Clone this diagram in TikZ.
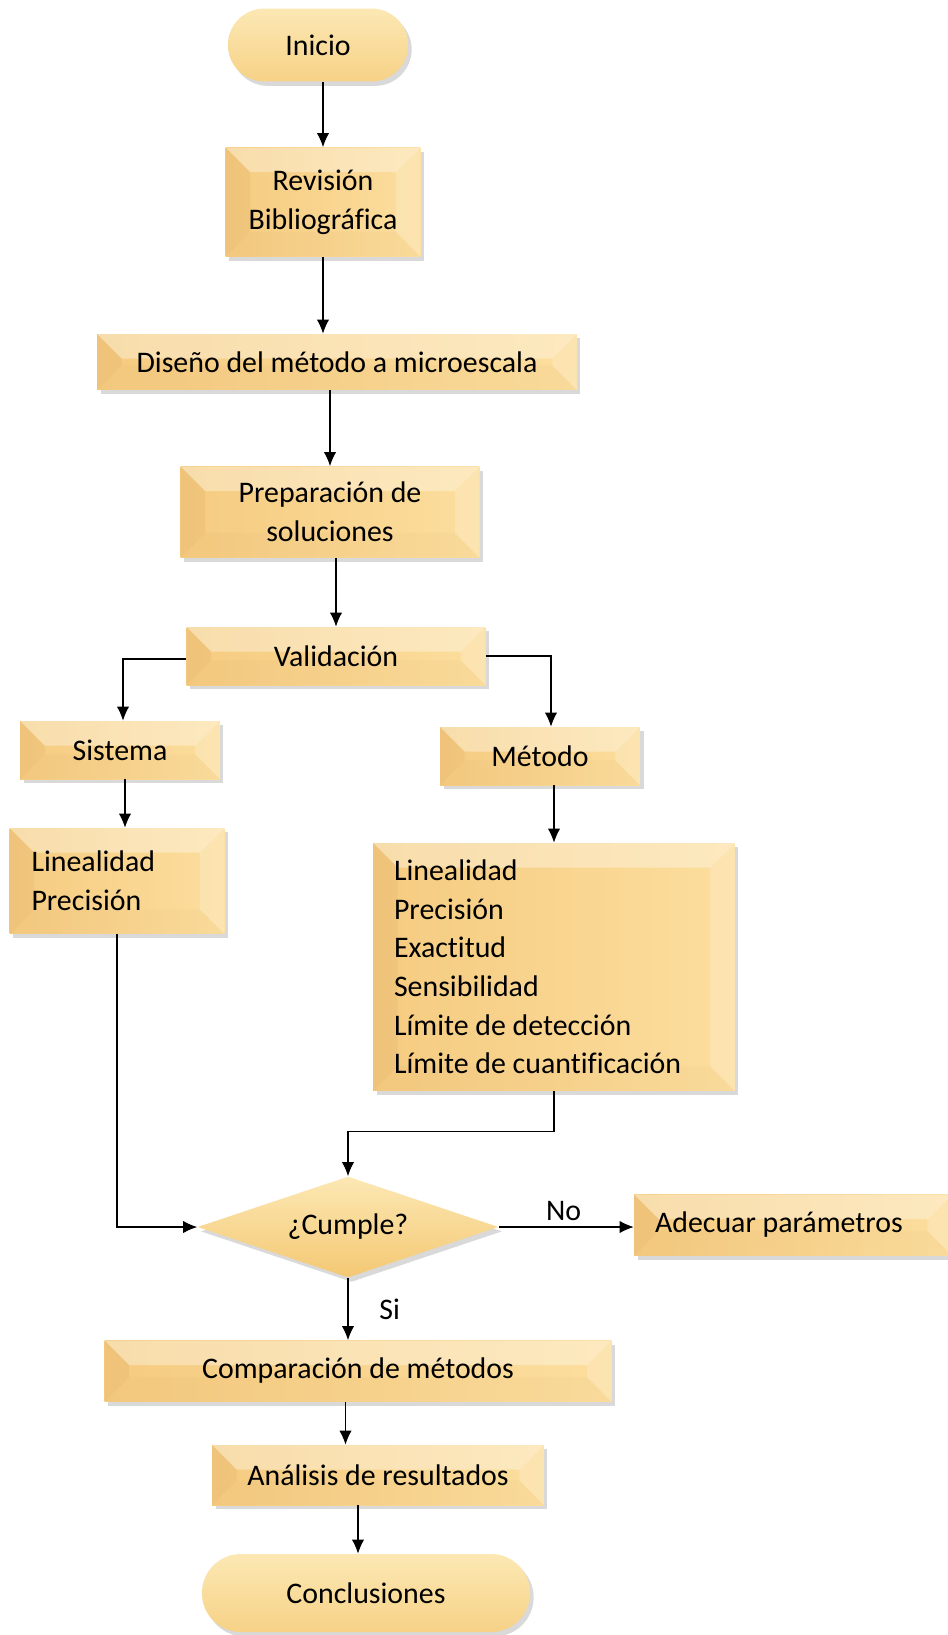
\documentclass[tikz,border=0pt]{standalone}
\usepackage{fontspec}
\setmainfont{Carlito}[Ligatures=NoCommon]
\usetikzlibrary{shapes.geometric,shapes.misc,shadows,arrows.meta,calc}

\definecolor{bevleftc}{RGB}{245,203,128}
\definecolor{bevrightc}{RGB}{252,222,158}
\definecolor{goldlight}{RGB}{252,232,180}
\definecolor{goldmid}{RGB}{248,210,132}
\definecolor{golddark}{RGB}{244,200,115}

\tikzset{
  softshadow/.style={drop shadow={shadow xshift=2pt,shadow yshift=-2.5pt,opacity=.25,fill=black!60}},
  bevelbox/.style={rectangle, left color=bevleftc, right color=bevrightc, softshadow, inner sep=0pt,
    path picture={
      \path let \p1=(path picture bounding box.north west),
                \p2=(path picture bounding box.south east),
                \n1={min(0.5*(\y1-\y2),14pt)} in
        coordinate (fa) at (\x1,\y1) coordinate (fb) at (\x2,\y1)
        coordinate (fc) at (\x2,\y2) coordinate (fd) at (\x1,\y2)
        coordinate (ia) at (\x1+\n1,\y1-\n1) coordinate (ib) at (\x2-\n1,\y1-\n1)
        coordinate (ic) at (\x2-\n1,\y2+\n1) coordinate (id) at (\x1+\n1,\y2+\n1);
      \fill[white, fill opacity=.35] (fa) -- (fb) -- (ib) -- (ia) -- cycle;
      \fill[white, fill opacity=.2] (fb) -- (fc) -- (ic) -- (ib) -- cycle;
      \fill[brown, fill opacity=.04] (fc) -- (fd) -- (id) -- (ic) -- cycle;
      \fill[brown, fill opacity=.1] (fd) -- (fa) -- (ia) -- (id) -- cycle;
    }},
  stadium/.style={rounded rectangle, top color=goldlight, middle color=goldmid,
    bottom color=golddark!70!goldlight, softshadow},
  decision/.style={diamond, aspect=3, top color=goldlight, bottom color=golddark, softshadow,
    inner sep=0pt},
  listbox/.style={bevelbox, align=flush left}
}

\begin{document}
\begin{tikzpicture}[x=0.02cm,y=-0.02cm,>={Latex[length=8pt,width=7pt]},
    every node/.style={font=\fontsize{17}{22}\selectfont},
    link/.style={->,line width=0.6pt}]
  \useasboundingbox (0,0) rectangle (947,1635);

  % Main column
  \node [stadium, minimum width=3.84cm, minimum height=1.46cm] (inicio) at (318,45) {Inicio};
  \node [bevelbox, minimum width=3.9cm, minimum height=2.18cm, align=center] (revision) at (323,202) {Revisión\\Bibliográfica};
  \node [bevelbox, minimum width=9.6cm, minimum height=1.12cm] (diseno) at (337,362) {Diseño del método a microescala};
  \node [bevelbox, minimum width=5.98cm, minimum height=1.82cm, align=center] (prep) at (330,512) {Preparación de\\soluciones};
  \node [bevelbox, minimum width=5.98cm, minimum height=1.16cm] (valid) at (336,656) {Validación};

  % Two branches of the validation
  \node [bevelbox, minimum width=4cm, minimum height=1.16cm] (sistema) at (120,750) {Sistema};
  \node [bevelbox, minimum width=4cm, minimum height=1.16cm] (metodo) at (540,756) {Método};
  \node [listbox, minimum width=4.3cm, minimum height=2.12cm, text width=3.42cm, inner xsep=0.44cm] (linsis) at (117,881)
    {Linealidad\\Precisión};
  \node [listbox, minimum width=7.24cm, minimum height=4.96cm, text width=6.4cm, inner xsep=0.42cm] (linmet) at (554,967)
    {Linealidad\\Precisión\\Exactitud\\Sensibilidad\\Límite de detección\\Límite de cuantificación};

  % Decision and closing steps
  \node [decision, minimum width=6.02cm, minimum height=2.02cm] (cumple) at (348,1227) {¿Cumple?};
  \node [listbox, minimum width=6.36cm, minimum height=1.22cm, text width=5.52cm, inner xsep=0.42cm] (adecuar) at (793,1225)
    {Adecuar parámetros};
  \node [bevelbox, minimum width=10.14cm, minimum height=1.22cm] (compara) at (358,1371) {Comparación de métodos};
  \node [bevelbox, minimum width=6.64cm, minimum height=1.2cm] (analisis) at (378,1475) {Análisis de resultados};
  \node [stadium, minimum width=6.8cm, minimum height=1.56cm] (conclus) at (366,1593) {Conclusiones};

  % Connectors
  \draw [link] (inicio.south -| revision.north) -- (revision.north);
  \draw [link] (revision.south) -- (revision.south |- diseno.north);
  \draw [link] (prep.north |- diseno.south) -- (prep.north);
  \draw [link] (valid.north |- prep.south) -- (valid.north);
  \draw [link] ([yshift=-0.06cm]valid.west) -| ([xshift=0.06cm]sistema.north);
  \draw [link] (valid.east) -| ([xshift=0.22cm]metodo.north);
  \draw [link] ([xshift=0.1cm]sistema.south) -- ([xshift=0.1cm]sistema.south |- linsis.north);
  \draw [link] (linmet.north |- metodo.south) -- (linmet.north);
  \draw [link] (linsis.south) |- (cumple.west);
  \draw [link] (linmet.south) -- ++(0,40) -| (cumple.north);
  \draw [link] (cumple.east) -- node [above, pos=.48] (lblno) {No} (cumple.east -| adecuar.west);
  \draw [link] (cumple.south) -- node [right, xshift=0.5cm, pos=.5] (lblsi) {Si} (cumple.south |- compara.north);
  \draw [link] ([xshift=-0.25cm]compara.south) -- ([xshift=-0.25cm]compara.south |- analisis.north);
  \draw [link] ([xshift=-0.4cm]analisis.south) -- ([xshift=-0.4cm]analisis.south |- conclus.north);
\end{tikzpicture}
\end{document}
